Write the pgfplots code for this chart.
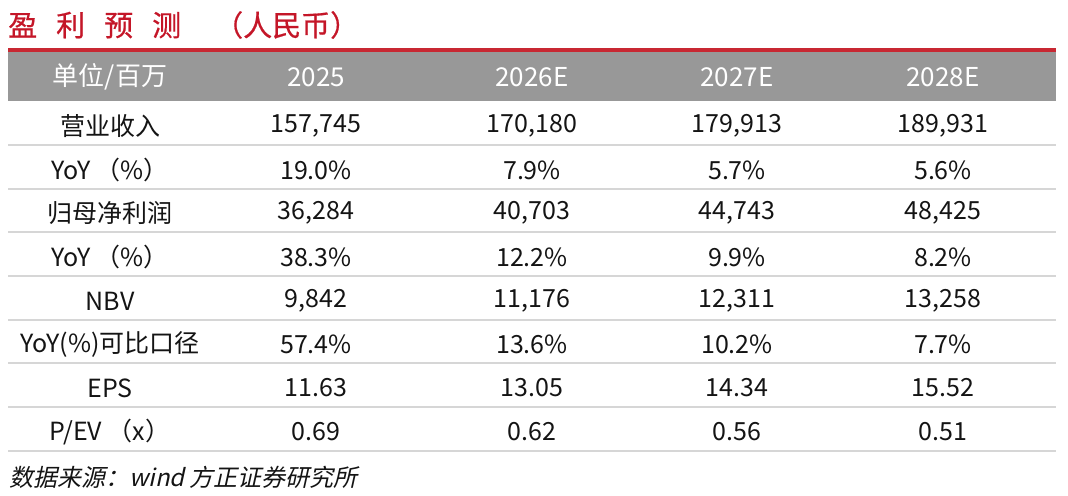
\documentclass[border=0pt]{standalone}
\usepackage{pgfplots}
\pgfplotsset{compat=1.18}
\usepackage{pgfplotstable}
\usepackage{fontspec}
\setmainfont{Noto Sans CJK SC}
\newfontfamily\cjkit[FakeSlant=0.22]{Noto Sans CJK SC}
\newfontfamily\cjkbold[FakeBold=0.6]{Noto Sans CJK SC}
\definecolor{titlered}{RGB}{196,22,40}
\definecolor{linered}{RGB}{200,40,50}
\definecolor{headgray}{RGB}{152,152,152}
\definecolor{sepgray}{RGB}{214,214,214}
\definecolor{txt}{RGB}{20,20,20}

% header row: x; y; text
\pgfplotstableread[col sep=semicolon]{
x;y;t
110;77;单位/百万
316;77;2025
532;77;2026E
737;77;2027E
943;77;2028E
}\header

% label column
\pgfplotstableread[col sep=semicolon]{
x;y;t
110;126;营业收入
110;170;YoY （\%）
110;213;归母净利润
110;257;YoY （\%）
110;301;NBV
110;344;YoY(\%)可比口径
110;388;EPS
110;432;P/EV （x）
}\labelcol

\pgfplotstableread[col sep=semicolon]{
x;y;t
316;126;157,745
316;170;19.0\%
316;213;36,284
316;257;38.3\%
316;301;9,842
316;344;57.4\%
316;388;11.63
316;432;0.69
}\colA

\pgfplotstableread[col sep=semicolon]{
x;y;t
532;126;170,180
532;170;7.9\%
532;213;40,703
532;257;12.2\%
532;301;11,176
532;344;13.6\%
532;388;13.05
532;432;0.62
}\colB

\pgfplotstableread[col sep=semicolon]{
x;y;t
737;126;179,913
737;170;5.7\%
737;213;44,743
737;257;9.9\%
737;301;12,311
737;344;10.2\%
737;388;14.34
737;432;0.56
}\colC

\pgfplotstableread[col sep=semicolon]{
x;y;t
943;126;189,931
943;170;5.6\%
943;213;48,425
943;257;8.2\%
943;301;13,258
943;344;7.7\%
943;388;15.52
943;432;0.51
}\colD

\begin{document}
\begin{tikzpicture}
\begin{axis}[
  hide axis,
  scale only axis,
  width=1068bp, height=496bp,
  xmin=0, xmax=1068, ymin=0, ymax=496,
  y dir=reverse,
  clip=false,
  tableval/.style={draw=none, mark=none, nodes near coords,
    point meta=explicit symbolic,
    nodes near coords style={anchor=center, inner sep=0pt,
      font=\fontsize{25bp}{28bp}\selectfont, text=txt}},
]
% frame path for bounding box
\path (axis cs:0,0) rectangle (axis cs:1068,496);
% header band
\addplot[fill=headgray, draw=none] coordinates {(8,52) (1056,52) (1056,101) (8,101)} -- cycle;
% red rule
\addplot[linered, line width=3.5bp] coordinates {(8,50) (1056,50)};
% row separators
\foreach \yy in {145,189,232,276,320,363,407,451}{
  \edef\tmp{\noexpand\addplot[sepgray, line width=1.4bp] coordinates {(8,\yy) (1056,\yy)};}
  \tmp
}
% header
\addplot[tableval, nodes near coords style={text=white, font=\fontsize{26bp}{29bp}\selectfont}]
  table[x=x, y=y, meta=t]{\header};
% body
\addplot[tableval] table[x=x, y=y, meta=t]{\labelcol};
\addplot[tableval] table[x=x, y=y, meta=t]{\colA};
\addplot[tableval] table[x=x, y=y, meta=t]{\colB};
\addplot[tableval] table[x=x, y=y, meta=t]{\colC};
\addplot[tableval] table[x=x, y=y, meta=t]{\colD};
% title
\node[anchor=west, inner sep=0pt, text=titlered,
  font=\fontsize{29bp}{32bp}\cjkbold] at (axis cs:8,25)
  {盈\hspace{19bp}利\hspace{19bp}预\hspace{19bp}测\hspace{33bp}（人民币）};
% source
\node[anchor=west, inner sep=0pt, text=txt,
  font=\fontsize{24bp}{27bp}\cjkit] at (axis cs:9,477)
  {数据来源：wind 方正证券研究所};
\end{axis}
\end{tikzpicture}
\end{document}
